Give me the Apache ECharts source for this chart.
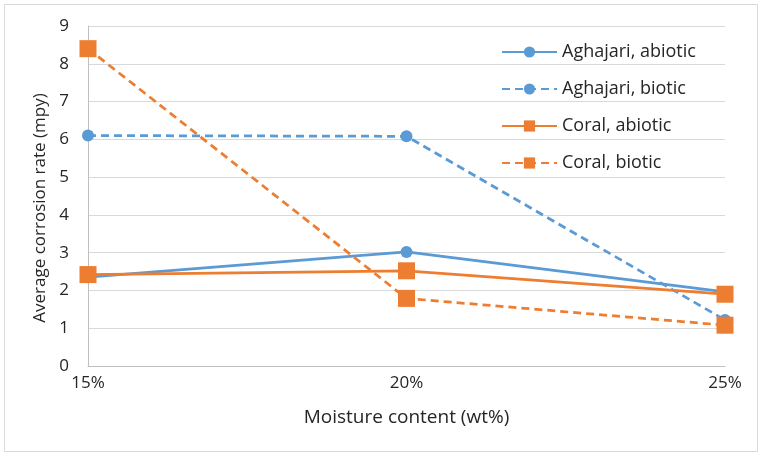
<!DOCTYPE html>
<html>
<head>
<meta charset="utf-8">
<script src="https://cdn.jsdelivr.net/npm/echarts@6/dist/echarts.min.js"></script>
<style>
  html, body { margin: 0; padding: 0; background: #fff; }
  #chart { width: 762px; height: 462px; }
</style>
</head>
<body>
<div id="chart"></div>
<script>
// moisture content categories (x axis)
var categories = ['15%', '20%', '25%'];
// average corrosion rate (mpy)
var aghajariAbiotic = [2.35, 3.02, 1.96];
var aghajariBiotic = [6.1, 6.08, 1.22];
var coralAbiotic = [2.42, 2.52, 1.9];
var coralBiotic = [8.4, 1.79, 1.08];

var blue = '#5B9BD5';
var orange = '#ED7D31';
var font = '"Open Sans", Lato, sans-serif';
var textColor = '#262626';

var myChart = echarts.init(document.getElementById('chart'));

function makeSeries(name, data, color, dashed, symbol, size) {
    return {
        name: name,
        type: 'line',
        data: data,
        symbol: symbol,
        symbolSize: size,
        showAllSymbol: true,
        lineStyle: { color: color, width: 2.75, type: dashed ? [8, 5] : 'solid' },
        itemStyle: { color: color },
        emphasis: { disabled: true }
    };
}

var option = {
    animation: false,
    backgroundColor: '#fff',
    textStyle: { fontFamily: font },
    grid: { left: 88, right: 37, top: 26, bottom: 96 },
    legend: {
        orient: 'vertical',
        left: 496,
        top: 38,
        itemGap: 19,
        itemWidth: 55,
        itemHeight: 14,
        textStyle: { fontSize: 18, color: textColor, fontFamily: font },
        data: ['Aghajari, abiotic', 'Aghajari, biotic', 'Coral, abiotic', 'Coral, biotic']
    },
    xAxis: {
        type: 'category',
        data: categories,
        boundaryGap: false,
        name: 'Moisture content (wt%)',
        nameLocation: 'middle',
        nameGap: 42,
        nameTextStyle: { fontSize: 19, color: textColor },
        axisLine: { lineStyle: { color: '#bfbfbf', width: 1 } },
        axisTick: { show: false },
        axisLabel: { fontSize: 17, color: textColor, margin: 9 }
    },
    yAxis: {
        type: 'value',
        min: 0,
        max: 9,
        interval: 1,
        name: 'Average corrosion rate (mpy)',
        nameLocation: 'middle',
        nameGap: 38,
        nameTextStyle: { fontSize: 17, color: textColor, padding: [0, 24, 0, 0] },
        axisLine: { show: true, lineStyle: { color: '#bfbfbf', width: 1 } },
        axisTick: { show: false },
        axisLabel: { fontSize: 17, color: textColor, margin: 19 },
        splitLine: { lineStyle: { color: '#d9d9d9', width: 1 } }
    },
    series: [
        makeSeries('Aghajari, abiotic', aghajariAbiotic, blue, false, 'circle', 12),
        makeSeries('Aghajari, biotic', aghajariBiotic, blue, true, 'circle', 12),
        makeSeries('Coral, abiotic', coralAbiotic, orange, false, 'rect', 17),
        makeSeries('Coral, biotic', coralBiotic, orange, true, 'rect', 17)
    ],
    graphic: [{
        type: 'rect',
        shape: { x: 4.5, y: 4.5, width: 753, height: 447 },
        style: { fill: 'none', stroke: '#d9d9d9', lineWidth: 1 },
        silent: true
    }]
};

myChart.setOption(option);
window.addEventListener('resize', function () {
    myChart.resize();
});
</script>
</body>
</html>
